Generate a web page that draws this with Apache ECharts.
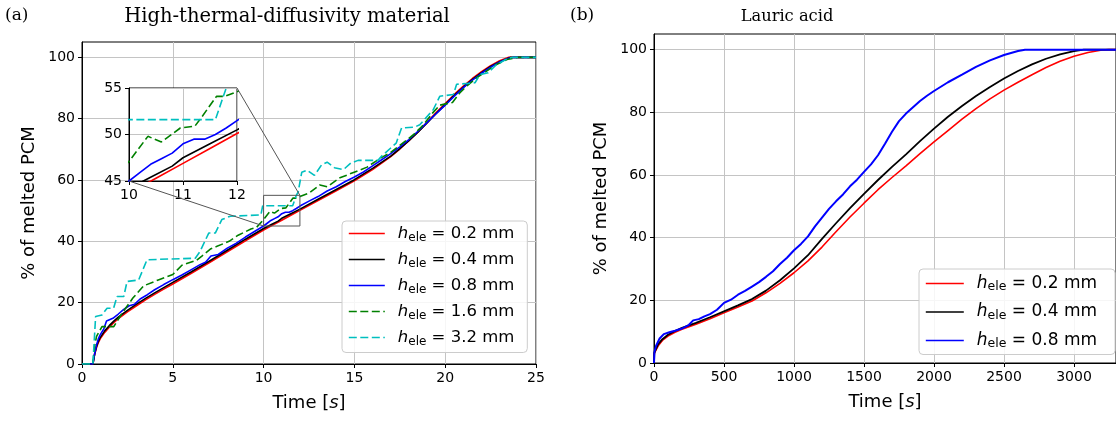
<!DOCTYPE html>
<html><head><meta charset="utf-8">
<script src="https://cdn.jsdelivr.net/npm/echarts@6/dist/echarts.min.js"></script>
<style>html,body{margin:0;padding:0;background:#fff}#c{width:1116px;height:421px}</style>
</head><body><div id="c"></div>
<script>
// ---------- data ----------
const leftXTicks = [0, 5, 10, 15, 20, 25];
const yTicks = [0, 20, 40, 60, 80, 100];
const rightXTicks = [0, 500, 1000, 1500, 2000, 2500, 3000];
const insetXTicks = [10, 11, 12];
const insetYTicks = [45, 50, 55];
const zoomX = [10, 12];
const zoomY = [45, 55];

const leftSizes = ['0.2', '0.4', '0.8', '1.6', '3.2'];
const rightSizes = ['0.2', '0.4', '0.8'];

// High-thermal-diffusivity material: [time s, % melted]
const hdm02 = [[0,0],[0.6,0],[0.7,3.2],[0.8,5.4],[0.9,7],[1,8.2],[1.25,10.3],[1.5,12],[1.75,13.5],[2,14.8],[2.5,17],[3,19],[3.5,20.9],[4,22.7],[4.5,24.4],[5,26.1],[6,29.5],[7,33],[8,36.6],[9,40.2],[10,43.7],[10.5,45.3],[11,46.9],[11.5,48.5],[12,50.1],[13,53.3],[14,56.5],[15,59.7],[16,63.4],[17,67.6],[17.5,70.1],[18,72.8],[18.5,75.7],[19,78.8],[19.5,82],[20,84.9],[20.5,87.9],[21,90.6],[21.5,93.1],[22,95.3],[22.5,97.3],[23,98.9],[23.5,100],[25,100]];
const hdm04 = [[0,0],[0.6,0],[0.7,3.4],[0.8,5.7],[0.9,7.4],[1,8.6],[1.25,10.8],[1.5,12.5],[1.75,14],[2,15.3],[2.5,17.5],[3,19.5],[3.5,21.4],[4,23.2],[4.5,24.9],[5,26.6],[6,30],[7,33.5],[8,37.1],[9,40.7],[10,44.2],[10.4,45.4],[10.8,46.6],[11,47.5],[11.5,49],[12,50.5],[13,53.7],[14,56.9],[15,60.1],[16,63.8],[17,67.8],[17.5,70.2],[18,72.8],[18.5,75.6],[19,78.6],[19.5,81.7],[20,84.6],[20.5,87.6],[21,90.3],[21.5,92.8],[22,95],[22.5,97],[23,98.6],[23.6,100],[25,100]];
const hdm08 = [[0,0],[0.6,0],[0.7,3.5],[0.8,6.2],[0.9,8.2],[1,9.5],[1.2,11.4],[1.35,14],[1.7,14.9],[2,16.3],[2.3,17.8],[2.6,19],[2.9,19.5],[3.2,21.2],[3.6,22.6],[4,24.2],[4.5,25.9],[5,27.5],[5.5,29],[6,30.7],[6.5,32.4],[6.8,33.2],[7.1,35.2],[7.5,35.7],[8,37.8],[8.5,39.4],[9,41.4],[9.5,43.2],[10,45],[10.2,45.9],[10.4,46.8],[10.6,47.4],[10.8,48],[11,49],[11.2,49.5],[11.4,49.5],[11.6,50],[11.8,50.7],[12,51.5],[12.5,53.1],[13,54.6],[13.5,56.4],[14,57.8],[14.5,59.5],[15,61],[15.5,62.6],[16,64.6],[16.5,66.6],[17,68.6],[17.5,70.8],[18,73.2],[18.5,75.9],[19,78.8],[19.5,81.6],[20,84.4],[20.5,87.3],[21,90.1],[21.5,92.6],[22,94.8],[22.5,96.8],[23,98.5],[23.5,99.7],[23.8,100],[25,100]];
const hdm16 = [[0,0],[0.6,0],[0.7,6],[0.8,9],[1.1,12.2],[1.75,12.2],[2.2,16.5],[2.5,19],[2.8,21.5],[3.4,25.5],[4.2,27.4],[5,29.2],[5.5,32.2],[6.3,33.8],[6.6,35.2],[7.1,37.6],[7.4,38.3],[8.1,40],[8.6,42],[9.3,44],[9.6,44.5],[10,47.1],[10.35,49.8],[10.6,49.2],[10.95,50.7],[11.22,50.9],[11.35,51.9],[11.62,54.1],[11.77,54.1],[12,54.6],[12.5,55.7],[13.1,58.4],[13.5,57.8],[14.2,60.7],[15.1,62.8],[15.7,64.2],[16.4,67],[17,69],[17.5,71.3],[18,73.6],[18.3,75],[18.8,78],[19.3,81.8],[19.7,84.4],[20.4,85.3],[20.8,88.4],[21.2,90.7],[21.7,93.2],[22.3,95.6],[22.8,97.6],[23.4,99.3],[24,100],[25,100]];
const hdm32 = [[0,0],[0.6,0],[0.75,15.5],[1.1,16],[1.38,18.2],[1.74,18.2],[1.93,22],[2.3,22],[2.48,26.9],[3.12,27.4],[3.58,34],[6.24,34.5],[6.5,36.7],[6.98,42.7],[7.34,42.7],[7.7,47.1],[8.17,48.2],[9.85,48.6],[9.95,51.6],[11.6,51.6],[11.8,55],[11.9,56],[12.1,62.5],[12.4,63.2],[12.8,61.5],[13.2,65],[13.5,65.8],[13.9,64],[14.4,63.4],[14.8,65.5],[15.2,66.4],[16.3,66.4],[16.5,67.8],[17.3,72],[17.6,77],[18.3,77.2],[18.6,78],[19.35,83],[19.7,87.3],[20.45,87.9],[20.63,91.2],[21.64,91.7],[21.92,94.4],[22.37,95],[22.8,97.5],[23.4,99.5],[23.7,100],[25,100]];

// Lauric acid: [time s, % melted]
const la02 = [[0,0],[2,3],[10,3.8],[30,5.5],[60,7.2],[100,8.6],[150,9.8],[200,10.8],[300,12.4],[400,14.1],[500,16],[600,17.9],[700,19.8],[800,22.4],[900,25.4],[1000,28.8],[1100,32.6],[1200,37],[1300,41.9],[1400,46.6],[1500,51],[1600,55.3],[1700,59.2],[1800,62.9],[1900,66.8],[2000,70.6],[2100,74.2],[2200,77.8],[2300,81.2],[2400,84.3],[2500,87.1],[2600,89.6],[2700,92],[2800,94.3],[2900,96.3],[3000,97.9],[3100,99.1],[3200,99.9],[3250,100],[3300,100]];
const la04 = [[0,0],[2,3.2],[10,4],[30,6],[60,7.6],[100,9],[150,10.2],[200,11.2],[300,12.8],[400,14.6],[500,16.5],[600,18.4],[700,20.4],[800,23.1],[900,26.4],[1000,30.2],[1100,34.4],[1200,39.6],[1300,44.6],[1400,49.4],[1500,54],[1600,58.4],[1700,62.6],[1800,66.6],[1900,70.8],[2000,74.8],[2100,78.6],[2200,82],[2300,85.2],[2400,88.1],[2500,90.8],[2600,93.2],[2700,95.3],[2800,97.1],[2900,98.5],[3000,99.5],[3070,100],[3300,100]];
const la08 = [[0,0],[3,3.5],[15,5.5],[40,7.8],[70,9.2],[110,9.8],[150,10.3],[200,11],[250,12.2],[280,13.6],[320,14],[360,14.9],[400,15.6],[450,17],[500,19.2],[550,20.2],[600,21.8],[650,23],[700,24.4],[750,25.8],[800,27.5],[850,29.3],[900,31.6],[950,33.6],[1000,36],[1050,38],[1100,40.4],[1150,43.6],[1200,46.4],[1250,49.2],[1300,51.6],[1350,53.8],[1400,56.4],[1450,58.5],[1500,61],[1550,63.4],[1600,66.3],[1650,70],[1700,73.8],[1750,77.2],[1800,79.6],[1850,81.6],[1900,83.6],[1950,85.3],[2000,86.8],[2100,89.6],[2200,92],[2300,94.5],[2400,96.6],[2500,98.3],[2600,99.6],[2650,100],[3300,100]];

// ---------- chart ----------
const FONT = 'DejaVu Sans';
const SERIF = 'DejaVu Serif';
const chart = echarts.init(document.getElementById('c'), null, {renderer: 'canvas'});

const leftData = [hdm02, hdm04, hdm08, hdm16, hdm32];
const rightData = [la02, la04, la08];
const leftColors = ['#ff0000', '#000000', '#0000ff', '#008000', '#00bfbf'];
const leftDashed = [false, false, false, true, true];
const rightColors = ['#ff0000', '#000000', '#0000ff'];
const rightWidths = [1.6, 1.8, 2.0];

const gridLine = {show: true, lineStyle: {color: '#c4c4c4', width: 1}};
const tickLabel = {color: '#000', fontFamily: FONT, fontSize: 14, margin: 7, formatter: v => String(v)};
const axisLn = {show: true, onZero: false, lineStyle: {color: '#000', width: 1}};
const tickSt = {show: true, length: 4, lineStyle: {color: '#000', width: 1}};
const nameRich = {
  a: {fontFamily: FONT, fontSize: 18, color: '#000'},
  b: {fontFamily: FONT, fontSize: 18, color: '#000', fontStyle: 'italic'}
};
function legRich(fs, ss) {
  return {
    h: {fontFamily: FONT, fontSize: fs, fontStyle: 'italic', color: '#000', lineHeight: 20},
    s: {fontFamily: FONT, fontSize: ss, color: '#000', lineHeight: 12, verticalAlign: 'bottom'},
    t: {fontFamily: FONT, fontSize: fs, color: '#000', lineHeight: 20}
  };
}
const legFmt = n => '{h|h}{s|ele}{t| = ' + n.slice(1) + ' mm}';

const series = [];
leftData.forEach((d, i) => {
  const ls = {color: leftColors[i], width: 1.6, type: leftDashed[i] ? [8, 3.5] : 'solid'};
  series.push({name: 'L' + leftSizes[i], type: 'line', xAxisIndex: 0, yAxisIndex: 0, data: d, symbol: 'none', lineStyle: ls, itemStyle: {color: leftColors[i]}, z: 2, clip: true});
  series.push({name: 'L' + leftSizes[i], type: 'line', xAxisIndex: 2, yAxisIndex: 2, data: d, symbol: 'none', lineStyle: ls, itemStyle: {color: leftColors[i]}, z: 6, clip: true});
});
rightData.forEach((d, i) => {
  series.push({name: 'R' + rightSizes[i], type: 'line', xAxisIndex: 1, yAxisIndex: 1, data: d, symbol: 'none', lineStyle: {color: rightColors[i], width: rightWidths[i]}, itemStyle: {color: rightColors[i]}, z: 2});
});

const legCommon = {
  orient: 'vertical', itemHeight: 14, selectedMode: false, formatter: legFmt,
  itemStyle: {opacity: 0, borderWidth: 0},
  lineStyle: {width: 1.6},
  backgroundColor: 'rgba(255,255,255,0.85)', borderColor: '#cccccc', borderWidth: 1, borderRadius: 4
};

const titleSt = fs => ({fontFamily: SERIF, fontWeight: 'normal', fontSize: fs, color: '#000'});

const option = {
  animation: false,
  backgroundColor: '#fff',
  title: [
    {text: '(a)', left: 5, top: 7, padding: 0, textStyle: titleSt(17)},
    {text: 'High-thermal-diffusivity material', left: 287, textAlign: 'center', top: 6.5, padding: 0, textStyle: titleSt(19.5)},
    {text: '(b)', left: 570, top: 7, padding: 0, textStyle: titleSt(17)},
    {text: 'Lauric acid', left: 787, textAlign: 'center', top: 9, padding: 0, textStyle: titleSt(16.3)}
  ],
  grid: [
    {left: 82, top: 42, width: 454, height: 322, show: true, borderColor: '#000', borderWidth: 1, backgroundColor: 'transparent', containLabel: false},
    {left: 654, top: 34, width: 464, height: 329, show: true, borderColor: '#000', borderWidth: 1, backgroundColor: 'transparent', containLabel: false},
    {left: 129, top: 88, width: 108, height: 93, show: true, borderColor: '#000', borderWidth: 1, backgroundColor: '#fff', containLabel: false, z: 3}
  ],
  xAxis: [
    {type: 'value', gridIndex: 0, min: 0, max: 25, interval: 5, axisLine: axisLn, axisTick: Object.assign({customValues: leftXTicks}, tickSt), axisLabel: Object.assign({customValues: leftXTicks}, tickLabel), splitLine: gridLine,
     name: '{a|Time [}{b|s}{a|]}', nameLocation: 'middle', nameGap: 30, nameTextStyle: {fontSize: 18, rich: nameRich}},
    {type: 'value', gridIndex: 1, min: 0, max: 3300, interval: 500, axisLine: axisLn, axisTick: Object.assign({customValues: rightXTicks}, tickSt), axisLabel: Object.assign({customValues: rightXTicks}, tickLabel), splitLine: gridLine,
     name: '{a|Time [}{b|s}{a|]}', nameLocation: 'middle', nameGap: 30, nameTextStyle: {fontSize: 18, rich: nameRich}},
    {type: 'value', gridIndex: 2, min: 10, max: 12, interval: 1, z: 4, axisLine: axisLn, axisTick: Object.assign({customValues: insetXTicks}, tickSt), axisLabel: Object.assign({customValues: insetXTicks}, tickLabel), splitLine: gridLine}
  ],
  yAxis: [
    {type: 'value', gridIndex: 0, min: 0, max: 105, interval: 20, axisLine: axisLn, axisTick: Object.assign({customValues: yTicks}, tickSt), axisLabel: Object.assign({customValues: yTicks}, tickLabel), splitLine: gridLine,
     name: '% of melted PCM', nameLocation: 'middle', nameGap: 44, nameTextStyle: {fontFamily: FONT, fontSize: 18, color: '#000'}},
    {type: 'value', gridIndex: 1, min: 0, max: 105, interval: 20, axisLine: axisLn, axisTick: Object.assign({customValues: yTicks}, tickSt), axisLabel: Object.assign({customValues: yTicks}, tickLabel), splitLine: gridLine,
     name: '% of melted PCM', nameLocation: 'middle', nameGap: 44, nameTextStyle: {fontFamily: FONT, fontSize: 18, color: '#000'}},
    {type: 'value', gridIndex: 2, min: 45, max: 55, interval: 5, z: 4, axisLine: axisLn, axisTick: Object.assign({customValues: insetYTicks}, tickSt), axisLabel: Object.assign({customValues: insetYTicks}, tickLabel), splitLine: gridLine}
  ],
  legend: [
    Object.assign({}, legCommon, {data: leftSizes.map(s => 'L' + s), left: 342, top: 221, itemWidth: 36, itemGap: 7.5,
      padding: [4, 13, 5, 6], textStyle: {rich: legRich(16.5, 12), padding: [0, 0, 0, 8]}}),
    Object.assign({}, legCommon, {data: rightSizes.map(s => 'R' + s), left: 919, top: 269, itemWidth: 38, itemGap: 10,
      padding: [6, 18, 4, 6], textStyle: {rich: legRich(17, 12.5), padding: [0, 0, 0, 8]}})
  ],
  series: series
};
chart.setOption(option);

// zoom marker rectangle and connector lines, positioned through the axes
const px = (ai, x, y) => chart.convertToPixel({xAxisIndex: ai, yAxisIndex: ai}, [x, y]);
const r0 = px(0, zoomX[0], zoomY[0]), r1 = px(0, zoomX[1], zoomY[1]);
const i0 = px(2, zoomX[0], zoomY[0]), i1 = px(2, zoomX[1], zoomY[1]);
const mk = {stroke: '#555', lineWidth: 1, fill: null};
chart.setOption({graphic: [
  {type: 'rect', z: 20, shape: {x: r0[0], y: r1[1], width: r1[0] - r0[0], height: r0[1] - r1[1]}, style: mk},
  {type: 'line', z: 20, shape: {x1: i1[0], y1: i1[1], x2: r1[0], y2: r1[1]}, style: mk},
  {type: 'line', z: 20, shape: {x1: i0[0], y1: i0[1], x2: r0[0], y2: r0[1]}, style: mk}
]});
</script></body></html>
